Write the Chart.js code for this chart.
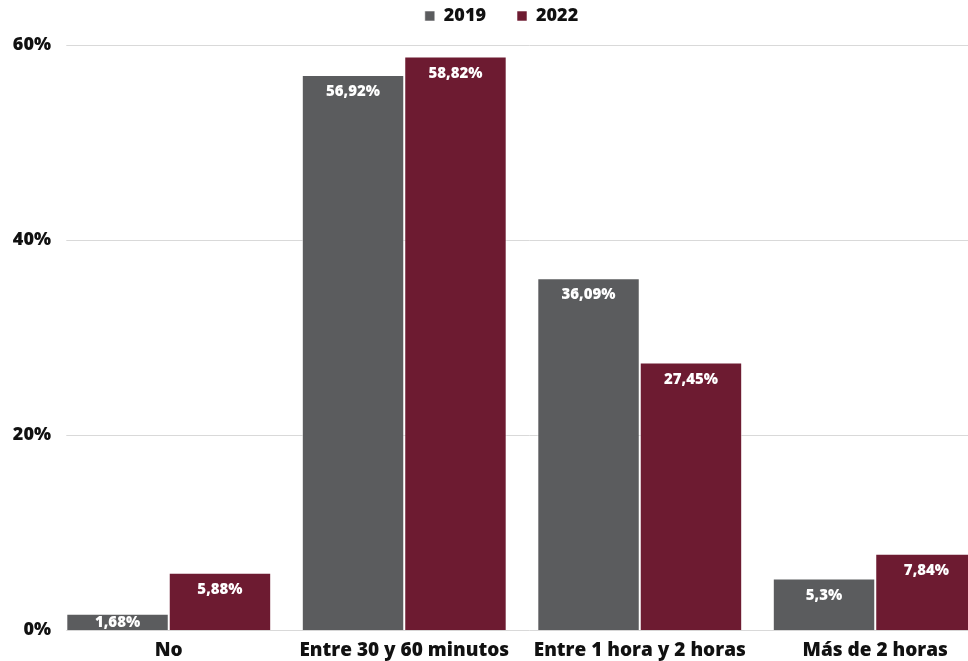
<!DOCTYPE html>
<html>
<head>
<meta charset="utf-8">
<title>Tiempo de desplazamiento</title>
<script src="https://cdn.jsdelivr.net/npm/chart.js@4.4.0/dist/chart.umd.min.js"></script>
<style>
  html, body { margin: 0; padding: 0; background: #fff; overflow: hidden; }
  #wrap { position: relative; width: 993px; height: 661px; }
</style>
</head>
<body>
<div id="wrap"><canvas id="chart"></canvas></div>
<script>
var categories = ['No', 'Entre 30 y 60 minutos', 'Entre 1 hora y 2 horas', 'Más de 2 horas'];
var values2019 = [1.68, 56.92, 36.09, 5.3];
var values2022 = [5.88, 58.82, 27.45, 7.84];
var yTicks = [0, 20, 40, 60];

var FONT = "'Open Sans', 'Noto Sans', sans-serif";

function pct(v) {
  return String(v).replace('.', ',') + '%';
}

// a bit more room under the legend
var legendGap = {
  id: 'legendGap',
  beforeLayout: function (chart) {
    var legend = chart.legend;
    if (legend && !legend._gapFit) {
      var fit = legend.fit;
      legend.fit = function () {
        fit.call(this);
        this.height += 10;
      };
      legend._gapFit = true;
    }
  }
};

// horizontal rules start at the first bar, not at the axis
var gridLines = {
  id: 'gridLines',
  beforeDatasetsDraw: function (chart) {
    var ctx = chart.ctx, y = chart.scales.y, area = chart.chartArea;
    var first = chart.getDatasetMeta(0).data[0];
    var left = first.x - first.width / 2;
    ctx.save();
    ctx.strokeStyle = '#d9d9d9';
    ctx.lineWidth = 1;
    yTicks.forEach(function (t) {
      var py = Math.round(y.getPixelForValue(t)) + 0.5;
      ctx.beginPath();
      ctx.moveTo(left, py);
      ctx.lineTo(area.right, py);
      ctx.stroke();
    });
    ctx.restore();
  }
};

// white value labels just inside the top of each bar
var barLabels = {
  id: 'barLabels',
  afterDatasetsDraw: function (chart) {
    var ctx = chart.ctx;
    ctx.save();
    ctx.font = '800 15px ' + FONT;
    ctx.fillStyle = '#ffffff';
    ctx.textAlign = 'center';
    ctx.textBaseline = 'middle';
    chart.data.datasets.forEach(function (ds, i) {
      chart.getDatasetMeta(i).data.forEach(function (bar, j) {
        var ty = Math.min(bar.y + 17, (bar.y + bar.base) / 2 + 1);
        ctx.fillText(pct(ds.data[j]), bar.x, ty);
      });
    });
    ctx.restore();
  }
};

new Chart(document.getElementById('chart'), {
  type: 'bar',
  data: {
    labels: categories,
    datasets: [
      {
        label: '2019',
        data: values2019,
        backgroundColor: '#5b5c5e',
        borderColor: 'rgba(255,255,255,0.55)',
        borderWidth: 1
      },
      {
        label: '2022',
        data: values2022,
        backgroundColor: '#6d1b31',
        borderColor: 'rgba(255,255,255,0.55)',
        borderWidth: 1
      }
    ]
  },
  options: {
    responsive: true,
    maintainAspectRatio: false,
    animation: false,
    layout: { padding: { top: -24, left: 10, right: 0, bottom: -10 } },
    datasets: { bar: { categoryPercentage: 0.87, barPercentage: 1 } },
    plugins: {
      tooltip: { enabled: false },
      legend: {
        position: 'top',
        labels: {
          boxWidth: 10,
          boxHeight: 10,
          padding: 31,
          color: '#111',
          font: { family: FONT, size: 18, weight: 800 }
        }
      }
    },
    scales: {
      x: {
        grid: { display: false, drawTicks: false },
        border: { display: false },
        ticks: {
          color: '#111',
          padding: 9,
          font: { family: FONT, size: 19, weight: 800 }
        }
      },
      y: {
        min: 0,
        max: 60,
        grid: { display: false, drawTicks: false },
        border: { display: false },
        afterFit: function (scale) { scale.width = 41; },
        ticks: {
          stepSize: 20,
          padding: 0,
          color: '#111',
          font: { family: FONT, size: 18, weight: 800 },
          callback: function (v) { return v + '%'; }
        }
      }
    }
  },
  plugins: [legendGap, gridLines, barLabels]
});
</script>
</body>
</html>
